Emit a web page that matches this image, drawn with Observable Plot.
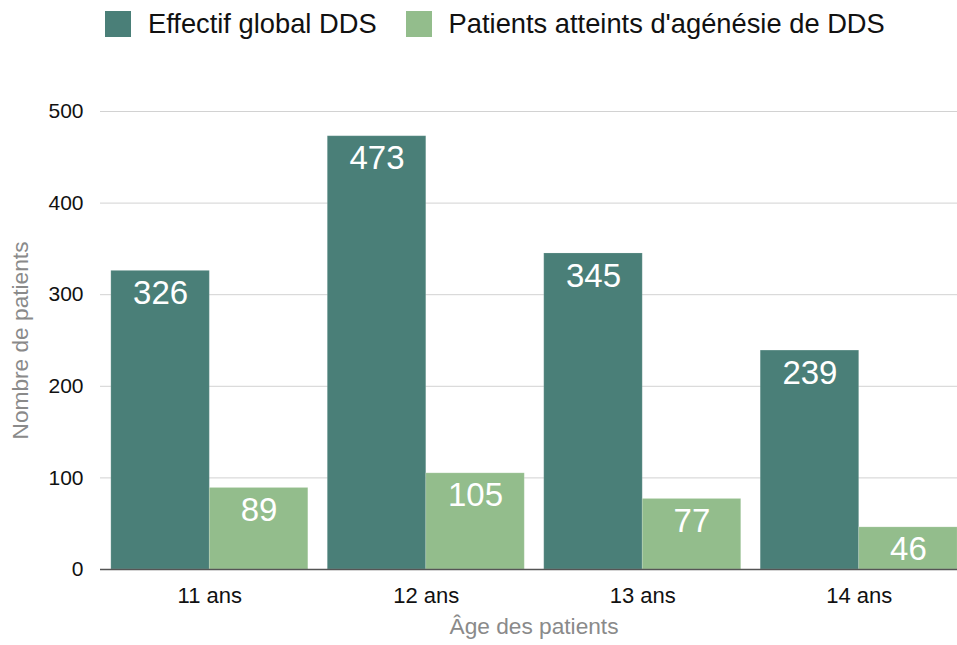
<!DOCTYPE html>
<html>
<head>
<meta charset="utf-8">
<script src="https://cdn.jsdelivr.net/npm/d3@7"></script>
<script src="https://cdn.jsdelivr.net/npm/@observablehq/plot@0.6"></script>
<style>
  html, body { margin: 0; padding: 0; background: #fff; }
  body { width: 957px; height: 645px; overflow: hidden; font-family: "Liberation Sans", Arial, Helvetica, sans-serif; }
  .legend { height: 48px; margin-bottom: 12px; display: flex; align-items: center; padding-left: 105px; font-size: 27.3px; color: #111; white-space: nowrap; }
  .legend .item { display: flex; align-items: center; margin-right: 29px; }
  .legend .sw { width: 26px; height: 26px; margin-right: 17px; box-sizing: border-box; flex: none; }
  #chart svg { display: block; }
</style>
</head>
<body>
<div class="legend" id="legend"></div>
<div id="chart"></div>
<script>
// ---- data ----
const ages = ["11 ans", "12 ans", "13 ans", "14 ans"];
const effectifGlobal = [326, 473, 345, 239];
const agenesie = [89, 105, 77, 46];
const seriesNames = ["Effectif global DDS", "Patients atteints d'agénésie de DDS"];
const seriesColors = ["#4a7f78", "#93bd8c"];
const yTicks = [0, 100, 200, 300, 400, 500];
const xLabel = "Âge des patients";
const yLabel = "Nombre de patients";

// ---- table ----
const rows = [];
ages.forEach((a, i) => {
  rows.push({age: a, series: seriesNames[0], value: effectifGlobal[i]});
  rows.push({age: a, series: seriesNames[1], value: agenesie[i]});
});
const first = rows.filter(d => d.series === seriesNames[0]);
const second = rows.filter(d => d.series === seriesNames[1]);

// ---- legend ----
const legend = document.getElementById("legend");
seriesNames.forEach((s, i) => {
  const item = document.createElement("div");
  item.className = "item";
  const sw = document.createElement("div");
  sw.className = "sw";
  sw.style.background = seriesColors[i];
  const t = document.createElement("span");
  t.textContent = s;
  item.appendChild(sw);
  item.appendChild(t);
  legend.appendChild(item);
});

// ---- layout ----
const W = 957, H = 585, mL = 100, mR = 0, mT = 51, mB = 76;
const xRange = [100, 968];
const padIn = 0.09, padOut = 0.05;
const step = (xRange[1] - xRange[0]) / (ages.length - padIn + 2 * padOut);
const half = step * (1 - padIn) / 2;

const chart = Plot.plot({
  width: W,
  height: H,
  marginLeft: mL,
  marginRight: mR,
  marginTop: mT,
  marginBottom: mB,
  style: {fontFamily: "'Liberation Sans', Arial, Helvetica, sans-serif", fontSize: "21px", color: "#111", background: "#fff"},
  x: {domain: ages, range: xRange, paddingInner: padIn, paddingOuter: padOut, round: false, label: null},
  y: {domain: [0, 500], label: null},
  color: {domain: seriesNames, range: seriesColors},
  marks: [
    Plot.ruleY(yTicks.filter(d => d > 0), {y: d => d, stroke: "#d2d2d2", strokeWidth: 1}),
    Plot.barY(first, {x: "age", y: "value", fill: "series", insetRight: half, insetLeft: 0, stroke: "#ffffff", strokeOpacity: 0.15, strokeWidth: 1}),
    Plot.barY(second, {x: "age", y: "value", fill: "series", insetLeft: half, insetRight: 0, stroke: "#ffffff", strokeOpacity: 0.15, strokeWidth: 1}),
    Plot.ruleY([0], {stroke: "#555", strokeWidth: 1.5}),
    Plot.text(first, {x: "age", y: "value", text: d => String(d.value), dx: -half / 2, dy: 22.5, fill: "white", fontSize: 33}),
    Plot.text(second, {x: "age", y: "value", text: d => String(d.value), dx: half / 2, dy: 22.5, fill: "white", fontSize: 33}),
    Plot.axisY({ticks: yTicks, tickSize: 0, tickPadding: 17, label: null, fontSize: 21, fill: "#111"}),
    Plot.axisX({tickSize: 0, tickPadding: 18, label: null, fontSize: 22, fill: "#111"}),
    Plot.text([yLabel], {frameAnchor: "left", textAnchor: "middle", rotate: -90, dx: -80, fill: "#8a8a8a", fontSize: 22.7}),
    Plot.text([xLabel], {frameAnchor: "bottom", dx: 5, dy: 64, fill: "#8a8a8a", fontSize: 22.7})
  ]
});
document.getElementById("chart").appendChild(chart);
</script>
</body>
</html>
